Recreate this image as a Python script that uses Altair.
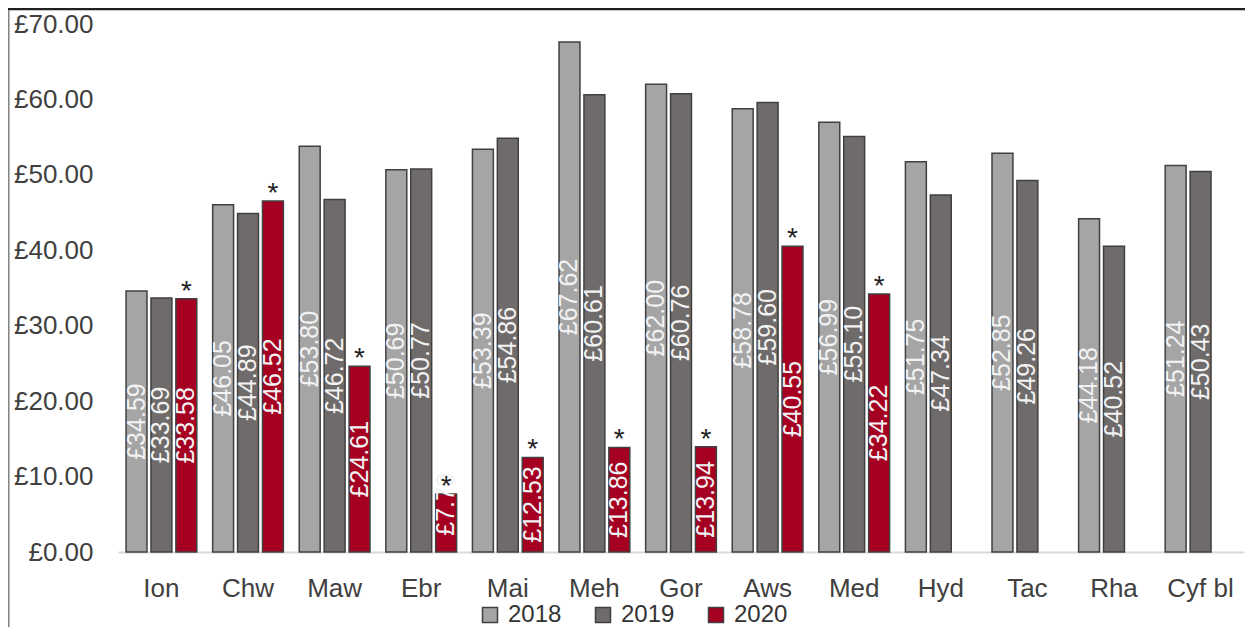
import altair as alt
import pandas as pd

categories = ["Ion", "Chw", "Maw", "Ebr", "Mai", "Meh", "Gor", "Aws", "Med", "Hyd", "Tac", "Rha", "Cyf bl"]
years = ["2018", "2019", "2020"]
v2018 = [34.59, 46.05, 53.80, 50.69, 53.39, 67.62, 62.00, 58.78, 56.99, 51.75, 52.85, 44.18, 51.24]
v2019 = [33.69, 44.89, 46.72, 50.77, 54.86, 60.61, 60.76, 59.60, 55.10, 47.34, 49.26, 40.52, 50.43]
v2020 = [33.58, 46.52, 24.61, 7.70, 12.53, 13.86, 13.94, 40.55, 34.22, None, None, None, None]
colors = ["#a5a5a5", "#6f6b6a", "#a50021"]
y_ticks = [0, 10, 20, 30, 40, 50, 60, 70]

rows = []
for yr, vals in zip(years, [v2018, v2019, v2020]):
    for c, v in zip(categories, vals):
        if v is not None:
            rows.append({"cat": c, "year": yr, "value": v})
df = pd.DataFrame(rows)

FONT = "Liberation Sans"
W, H = 1126, 528

x_enc = alt.X("cat:N", sort=categories, title=None,
              scale=alt.Scale(paddingInner=0.137, paddingOuter=0.07),
              axis=alt.Axis(labelAngle=0, ticks=False, domainColor="#d9d9d9", domainWidth=2,
                            labelFont=FONT, labelFontSize=26, labelColor="#404040",
                            labelPadding=23))
xo_enc = alt.XOffset("year:N", scale=alt.Scale(domain=years, paddingInner=0.16, paddingOuter=0.08))
y_scale = alt.Scale(domain=[0, 70], nice=False)

base = alt.Chart(df)

bars = base.mark_bar(stroke="#404040", strokeWidth=1.5).encode(
    x=x_enc,
    xOffset=xo_enc,
    y=alt.Y("value:Q", scale=y_scale, title=None,
            axis=alt.Axis(values=y_ticks, ticks=False, domain=False, grid=False,
                          labelExpr="'£' + format(datum.value, '.2f')",
                          labelFont=FONT, labelFontSize=26, labelColor="#404040",
                          labelPadding=25)),
    color=alt.Color("year:N", scale=alt.Scale(domain=years, range=colors),
                    legend=alt.Legend(orient="none", legendX=360, legendY=579, direction="horizontal",
                                      title=None, symbolType="square", symbolSize=225,
                                      symbolStrokeColor="#404040", symbolStrokeWidth=1.5,
                                      symbolOpacity=1, labelFont=FONT, labelFontSize=24,
                                      labelColor="#333333", columnPadding=29, labelOffset=6,
                                      padding=0)),
)

labels = base.transform_calculate(
    mid="max(datum.value / 2, 6.3)",
    lbl="'£' + format(datum.value, '.2f')",
).mark_text(angle=270, align="center", baseline="middle", font=FONT, fontSize=25,
            color="#f2f2f2").encode(
    x=alt.X("cat:N", sort=categories),
    xOffset=alt.XOffset("year:N"),
    y=alt.Y("mid:Q", scale=y_scale),
    text="lbl:N",
)

stars = base.transform_filter("datum.year == '2020'").mark_text(
    text="*", baseline="alphabetic", dy=1, font=FONT, fontSize=28, color="#222222"
).encode(
    x=alt.X("cat:N", sort=categories),
    xOffset=alt.XOffset("year:N"),
    y=alt.Y("value:Q", scale=y_scale),
)

top_line = alt.Chart(pd.DataFrame({"a": [0]})).mark_rule(color="#1f1f1f", strokeWidth=2.5).encode(
    x=alt.value(-110), x2=alt.value(W + 1), y=alt.value(-15)
)
left_line = alt.Chart(pd.DataFrame({"a": [0]})).mark_rule(color="#7f7f7f", strokeWidth=1.5).encode(
    x=alt.value(-109.2), y=alt.value(-14), y2=alt.value(H + 75)
)

chart = alt.layer(bars, labels, stars, top_line, left_line).properties(
    width=W, height=H,
    autosize=alt.AutoSizeParams(type="none"),
    padding={"left": 110, "top": 16, "right": 1, "bottom": 75},
    background="white",
).configure_view(strokeWidth=0)

chart.save("out.html", embed_options={"renderer": "svg", "actions": False})
